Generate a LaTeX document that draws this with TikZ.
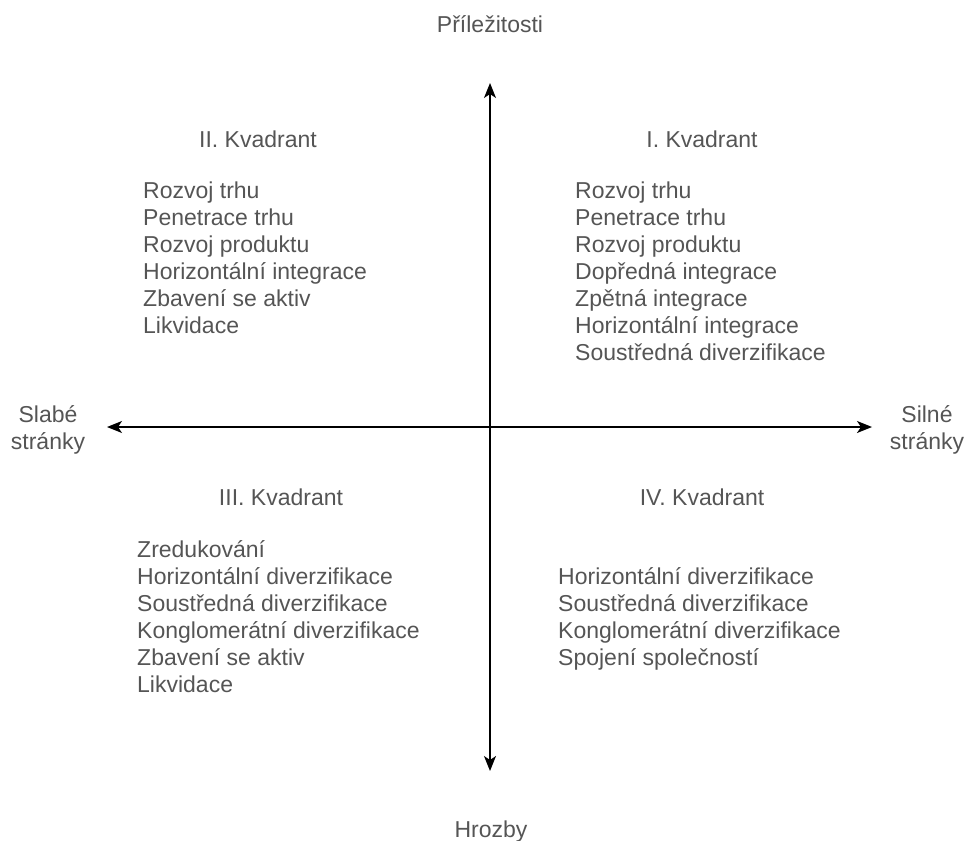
\documentclass[tikz,border=0pt]{standalone}
\usepackage{fontspec}
\setmainfont{Liberation Sans}
\usetikzlibrary{arrows.meta}
\definecolor{txtgray}{RGB}{85,85,85}
\tikzset{
  lbl/.style={text=txtgray, font=\fontsize{23}{27}\selectfont, inner sep=0pt},
  head/.style={lbl, anchor=base},
  items/.style={lbl, align=left, anchor=base west},
  axis/.style={<->, line width=1.5pt},
}
\begin{document}
\begin{tikzpicture}[x=1pt, y=-1pt, >={Stealth[length=15pt, width=12pt, inset=4pt]}]
  \useasboundingbox (0,0) rectangle (968,840);
  % axes
  \coordinate (top) at (490,83);
  \coordinate (bot) at (490,771);
  \coordinate (left) at (107,427);
  \coordinate (right) at (872,427);
  \draw[axis] (left) -- (right);
  \draw[axis] (bot) -- (top);
  % axis labels (base = last line)
  \node[head] (opp) at (490,33) {Příležitosti};
  \node[head] (thr) at (491,837) {Hrozby};
  \node[head, align=center] (weak) at (48,449) {Slabé\\stránky};
  \node[head, align=center] (strong) at (927,449) {Silné\\stránky};
  % quadrants
  \node[head] (q1) at (702,147) {I. Kvadrant};
  \node[head] (q2) at (258,147) {II. Kvadrant};
  \node[head] (q3) at (281,505) {III. Kvadrant};
  \node[head] (q4) at (702,505) {IV. Kvadrant};
  \node[items] (l1) at (575,360) {Rozvoj trhu\\Penetrace trhu\\Rozvoj produktu\\Dopředná integrace\\Zpětná integrace\\Horizontální integrace\\Soustředná diverzifikace};
  \node[items] (l2) at (143,333) {Rozvoj trhu\\Penetrace trhu\\Rozvoj produktu\\Horizontální integrace\\Zbavení se aktiv\\Likvidace};
  \node[items] (l3) at (137,692) {Zredukování\\Horizontální diverzifikace\\Soustředná diverzifikace\\Konglomerátní diverzifikace\\Zbavení se aktiv\\Likvidace};
  \node[items] (l4) at (558,665) {Horizontální diverzifikace\\Soustředná diverzifikace\\Konglomerátní diverzifikace\\Spojení společností};
\end{tikzpicture}
\end{document}
